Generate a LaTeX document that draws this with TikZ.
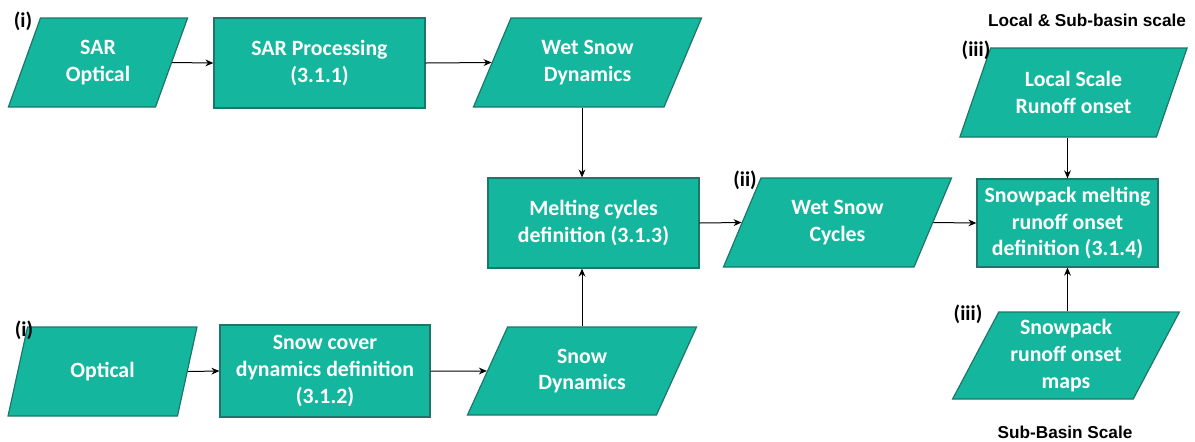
\documentclass[tikz,border=0pt]{standalone}
\usepackage{fontspec}
\setmainfont{Carlito}
\newfontfamily\capfont{Liberation Sans}
\usepackage{tikz}
\usetikzlibrary{arrows.meta,shapes.geometric}
\definecolor{flowteal}{RGB}{20,183,158}
\definecolor{flowedge}{RGB}{30,118,106}

\begin{document}
\begin{tikzpicture}[
    x=0.5pt, y=-0.5pt,
    proc/.style={draw=flowedge, line width=0.6pt, fill=flowteal, text=white, font=\fontsize{10.9}{13.3}\selectfont\bfseries, align=center, inner sep=0pt},
    data/.style={proc, trapezium, trapezium left angle=#1, trapezium right angle={180-#1}, trapezium stretches=true},
    data/.default=63,
    tag/.style={font=\fontsize{10.5}{12}\selectfont\bfseries},
    scalelbl/.style={font=\capfont\fontsize{8.6}{10}\selectfont\bfseries},
    link/.style={->, line width=0.5pt},
    >={Stealth[length=4pt,width=3.4pt]}
]
\useasboundingbox (0,0) rectangle (1195,441);

% SAR branch
\node[data=68, minimum width=90pt, minimum height=44.5pt] (sarin) at (98,62.5) {SAR\\Optical};
\node[proc, minimum width=105.5pt, minimum height=45pt] (sarproc) at (319.5,63) {SAR Processing\\(3.1.1)};
\node[data, minimum width=114.5pt, minimum height=44.5pt] (wetdyn) at (587.5,62.5) {Wet Snow\\Dynamics};

% Optical branch
\node[data=66, minimum width=94.5pt, minimum height=44.5pt] (optin) at (102.5,371.5) {Optical};
\node[proc, minimum width=105pt, minimum height=46pt] (snowcov) at (325,371) {Snow cover\\dynamics definition\\(3.1.2)};
\node[data=62, minimum width=115pt, minimum height=44pt] (snowdyn) at (582,371) {Snow\\Dynamics};

% Melting cycles and runoff onset
\node[proc, minimum width=105.5pt, minimum height=45pt] (melt) at (593.5,223) {Melting cycles\\definition (3.1.3)};
\node[data, minimum width=114.5pt, minimum height=44.5pt] (wetcyc) at (837.5,222.5) {Wet Snow\\Cycles};
\node[proc, minimum width=90.5pt, minimum height=44pt] (runoff) at (1067.5,223) {Snowpack melting\\runoff onset\\definition (3.1.4)};
\node[data, minimum width=114.5pt, minimum height=44.5pt] (local) at (1073.5,92.5) {Local Scale\\Runoff onset};
\node[data=62, minimum width=114pt, minimum height=43.5pt] (maps) at (1066,355.5) {Snowpack\\runoff onset\\maps};

% Tags
\node[tag] (tagsar) at (23,21) {(i)};
\node[tag] (tagopt) at (24,330) {(i)};
\node[tag] (tagwet) at (745,180) {(ii)};
\node[tag] (taglocal) at (976,50) {(iii)};
\node[tag] (tagmaps) at (968,314) {(iii)};
\node[scalelbl] (toplbl) at (1087,20) {Local \& Sub-basin scale};
\node[scalelbl] (botlbl) at (1065,432) {Sub-Basin Scale};

% Links
\draw[link] (sarin.east) -- (sarproc.west);
\draw[link] (sarproc.east) -- (wetdyn.west);
\draw[link] (wetdyn.south -| snowdyn.north) -- (melt.north -| snowdyn.north);
\draw[link] (optin.east) -- (snowcov.west);
\draw[link] (snowcov.east) -- (snowdyn.west);
\draw[link] (snowdyn.north) -- (melt.south -| snowdyn.north);
\draw[link] (melt.east) -- (wetcyc.west);
\draw[link] (wetcyc.east) -- (runoff.west);
\draw[link] (local.south -| runoff.north) -- (runoff.north);
\draw[link] (maps.north -| runoff.south) -- (runoff.south);

\end{tikzpicture}
\end{document}
